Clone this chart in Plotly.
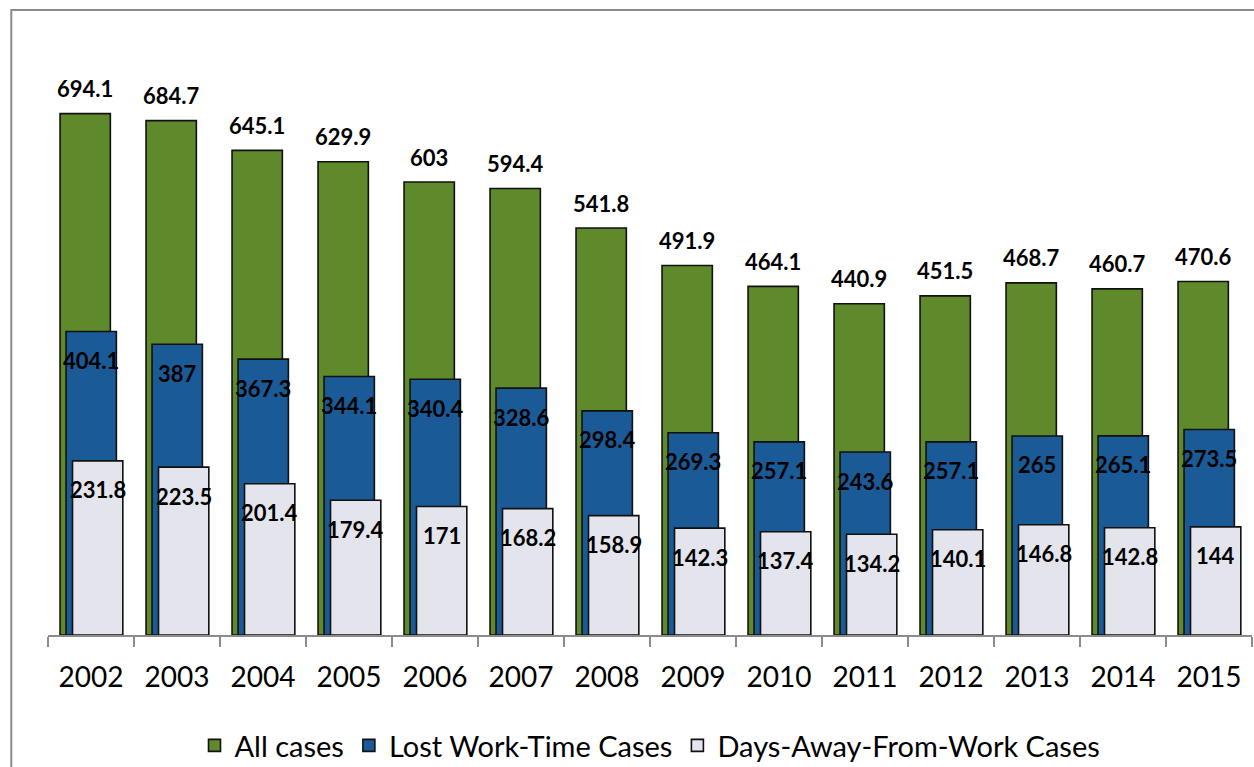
import plotly.graph_objects as go

years = ["2002", "2003", "2004", "2005", "2006", "2007", "2008",
         "2009", "2010", "2011", "2012", "2013", "2014", "2015"]
all_cases = [694.1, 684.7, 645.1, 629.9, 603, 594.4, 541.8,
             491.9, 464.1, 440.9, 451.5, 468.7, 460.7, 470.6]
lost_work_time = [404.1, 387, 367.3, 344.1, 340.4, 328.6, 298.4,
                  269.3, 257.1, 243.6, 257.1, 265, 265.1, 273.5]
days_away = [231.8, 223.5, 201.4, 179.4, 171, 168.2, 158.9,
             142.3, 137.4, 134.2, 140.1, 146.8, 142.8, 144]

FONT = "Lato"
BAR_W = 0.585
series = [
    # name, values, colour, offset (category units), label shift (px)
    ("All cases", all_cases, "#5e8a2b", -0.36, 25),
    ("Lost Work-Time Cases", lost_work_time, "#1a5a97", -0.29, -29),
    ("Days-Away-From-Work Cases", days_away, "#e3e4ec", -0.215, -29),
]

fig = go.Figure()
annotations = []
CAT_PX = 86  # approximate pixel width of one category
for idx, (name, vals, col, off, yshift) in enumerate(series):
    fig.add_trace(go.Bar(
        x=years, y=vals, name=name,
        width=BAR_W, offset=off,
        marker=dict(color=col, line=dict(color="#111111", width=1.6)),
    ))
    center_px = (off + BAR_W / 2) * CAT_PX
    for i, v in enumerate(vals):
        annotations.append(dict(
            x=i, y=v, xref="x", yref="y",
            text="<b>%s</b>" % f"{v:g}", showarrow=False,
            xshift=center_px, yshift=yshift,
            xanchor="center", yanchor="middle",
            font=dict(family=FONT, size=22, color="#000000"),
        ))

fig.update_layout(
    width=1254, height=767,
    margin=dict(l=48, r=2, t=10, b=132, autoexpand=False),
    paper_bgcolor="white", plot_bgcolor="white",
    barmode="overlay",
    showlegend=True,
    legend=dict(
        orientation="h", x=0.5, xanchor="center",
        yref="container", y=0.028, yanchor="middle",
        font=dict(family=FONT, size=29, color="#000000"),
        traceorder="normal",
    ),
    annotations=annotations,
    shapes=[dict(
        type="rect", xref="paper", yref="paper",
        x0=-0.0305, x1=1.01, y0=-0.3, y1=1.0,
        line=dict(color="#8a8a8a", width=2), layer="below",
    )],
    xaxis=dict(
        type="category", range=[-0.5, 13.5],
        showline=True, linecolor="#8c8c8c", linewidth=2,
        ticks="outside", tickson="boundaries", ticklen=10,
        tickcolor="#8c8c8c", tickwidth=2,
        tickfont=dict(family=FONT, size=28, color="#000000"),
        ticklabelstandoff=16,
        showgrid=False, automargin=False,
    ),
    yaxis=dict(
        range=[0, 832], showgrid=False, zeroline=False,
        showline=False, ticks="", showticklabels=False,
    ),
)

fig.write_html("out.html")
